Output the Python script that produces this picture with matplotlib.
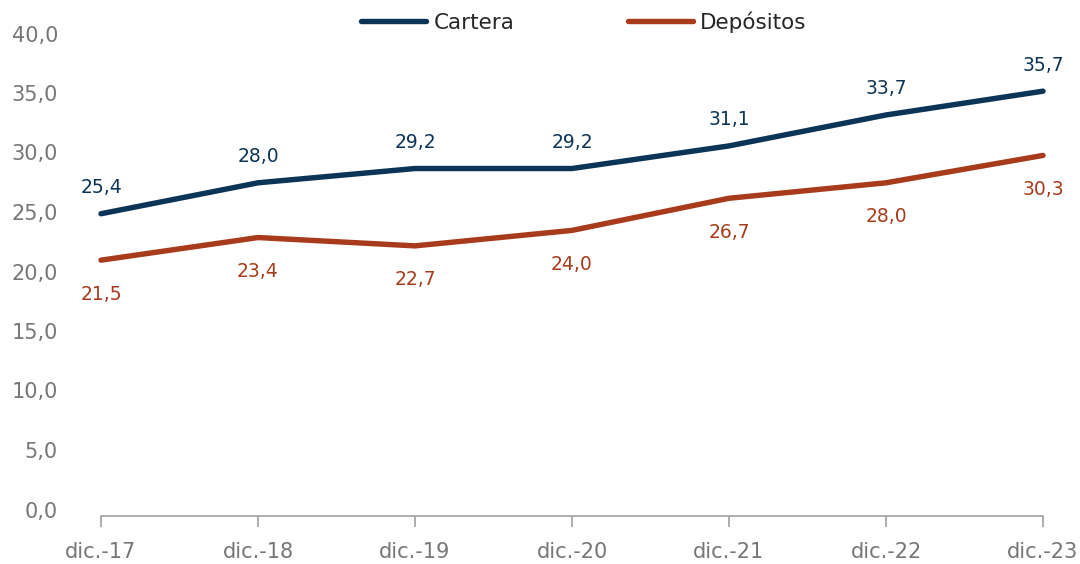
import matplotlib
matplotlib.use("Agg")
import matplotlib.pyplot as plt
import matplotlib.transforms as mtransforms

plt.rcParams['font.family'] = ['DejaVu Sans']

categories = ["dic.-17", "dic.-18", "dic.-19", "dic.-20", "dic.-21", "dic.-22", "dic.-23"]
cartera = [25.4, 28.0, 29.2, 29.2, 31.1, 33.7, 35.7]
depositos = [21.5, 23.4, 22.7, 24.0, 26.7, 28.0, 30.3]
yticks = [0, 5, 10, 15, 20, 25, 30, 35, 40]

c_cart = "#0C3457"
c_dep = "#A83B1B"
gray = "#767676"

fig = plt.figure(figsize=(10.8, 5.64), dpi=100)
ax = fig.add_axes([101/1080, 48/564, (1043-101)/1080, (516-40)/564])
x = list(range(len(categories)))
ax.plot(x, cartera, color=c_cart, lw=3.9, solid_capstyle='round', label="Cartera", clip_on=False)
ax.plot(x, depositos, color=c_dep, lw=3.9, solid_capstyle='round', label="Depósitos", clip_on=False)

for xi, v in zip(x, cartera):
    ax.annotate(f"{v:.1f}".replace('.', ','), (xi, v), xytext=(0, 26), textcoords='offset pixels',
                ha='center', va='center', color=c_cart, fontsize=13.5)
for xi, v in zip(x, depositos):
    ax.annotate(f"{v:.1f}".replace('.', ','), (xi, v), xytext=(0, -34), textcoords='offset pixels',
                ha='center', va='center', color=c_dep, fontsize=13.5)

ax.set_xlim(0, 6)
ax.set_ylim(0, 40)
ax.set_xticks(x)
ax.set_xticklabels(categories, fontsize=15, color=gray)
ax.set_yticks(yticks)
ax.set_yticklabels([f"{t:.1f}".replace('.', ',') for t in yticks], fontsize=15, color=gray)
ax.tick_params(axis='y', length=0, pad=31)
ax.tick_params(axis='x', length=8, width=1.2, color="#A0A0A0", pad=11)
for lbl in ax.get_yticklabels():
    lbl.set_transform(lbl.get_transform() + mtransforms.ScaledTranslation(0, 0.065, fig.dpi_scale_trans))
for s in ['top', 'right', 'left']:
    ax.spines[s].set_visible(False)
ax.spines['bottom'].set_color("#A0A0A0")
ax.spines['bottom'].set_linewidth(1.2)

leg = fig.legend(loc='center', bbox_to_anchor=(584/1080, 1 - 22/564), ncol=2, frameon=False,
                 fontsize=15.5, handlelength=3.0, columnspacing=5.3, handletextpad=0.35)
for t in leg.get_texts():
    t.set_color("#262626")

fig.savefig("out.png", dpi=100)
